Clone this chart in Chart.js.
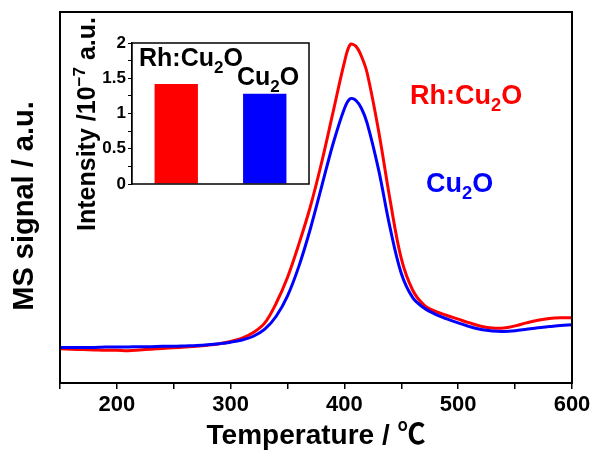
<!DOCTYPE html>
<html>
<head>
<meta charset="utf-8">
<script src="https://cdn.jsdelivr.net/npm/chart.js@4/dist/chart.umd.min.js"></script>
<style>
  html, body { margin: 0; padding: 0; background: #fff; }
  #wrap { position: relative; width: 597px; height: 454px; }
  #wrap canvas { position: absolute; left: 0; top: 0; }
</style>
</head>
<body>
<div id="wrap">
  <canvas id="msChart" width="597" height="454"></canvas>
  <canvas id="insetChart" width="320" height="250"></canvas>
</div>
<script>
const FAMILY = 'Arial, "Liberation Sans", "Noto Sans CJK SC", sans-serif';

// TPD traces (arbitrary units)
const temperature = [150, 160, 170, 180, 190, 200, 210, 220, 230, 240, 250, 260, 270, 280, 290, 300,
    310, 320, 330, 340, 350, 360, 370, 380, 390, 400, 405, 410, 415, 420, 430, 440, 450, 460,
    470, 480, 490, 500, 510, 520, 530, 540, 550, 560, 570, 580, 590, 600];
const rhSignal = [9.2, 9.1, 9.0, 8.9, 8.8, 8.8, 8.7, 8.9, 9.1, 9.3, 9.5, 9.7, 9.9, 10.2, 10.6, 11.2,
    12.1, 13.6, 16.2, 21.5, 28.5, 37.5, 47.5, 59.5, 73.0, 86.5, 91.2, 90.8, 88.0, 83.5, 68.0, 49.5, 33.5, 25.0,
    21.0, 19.3, 18.2, 17.2, 16.2, 15.3, 14.8, 14.8, 15.4, 16.2, 16.9, 17.4, 17.6, 17.6];
const cu2oSignal = [9.6, 9.6, 9.6, 9.6, 9.7, 9.7, 9.7, 9.8, 9.8, 9.9, 9.9, 10.0, 10.1, 10.3, 10.6, 11.0,
    11.6, 12.6, 14.5, 18.0, 23.5, 31.5, 41.5, 53.0, 64.5, 74.0, 76.6, 76.2, 74.0, 70.0, 57.5, 42.0, 29.5, 23.0,
    20.2, 18.5, 17.3, 16.2, 15.2, 14.4, 14.0, 13.9, 14.1, 14.5, 14.9, 15.2, 15.5, 15.7];

// integrated intensity, 10^-7 a.u.
const samples = ['Rh:Cu2O', 'Cu2O'];
const intensity = [1.42, 1.28];
const sampleColors = ['#ff0000', '#0000ff'];

// split a formula like "Cu2O" into plain / subscript runs
function chemParts(name) {
    return name.split(/(\d+)/).filter(s => s).map(s => /^\d+$/.test(s) ? [s, 'sub'] : [s]);
}

function richWidth(ctx, parts, size) {
    let w = 0;
    parts.forEach(([t, kind]) => {
        ctx.font = `bold ${kind ? size * 0.68 : size}px ${FAMILY}`;
        w += ctx.measureText(t).width;
    });
    return w;
}

function drawRich(ctx, parts, x, y, size, color) {
    let cx = x;
    ctx.save();
    ctx.fillStyle = color;
    ctx.textAlign = 'left';
    ctx.textBaseline = 'alphabetic';
    parts.forEach(([t, kind]) => {
        ctx.font = `bold ${kind ? size * 0.68 : size}px ${FAMILY}`;
        const dy = kind === 'sub' ? size * 0.26 : kind === 'sup' ? -size * 0.42 : 0;
        ctx.fillText(t, cx, y + dy);
        cx += ctx.measureText(t).width;
    });
    ctx.restore();
}

// rotated text centred on (x, y), baseline at x
function drawVertical(ctx, parts, x, y, size) {
    const w = richWidth(ctx, parts, size);
    ctx.save();
    ctx.translate(x, y);
    ctx.rotate(-Math.PI / 2);
    drawRich(ctx, parts, -w / 2, 0, size, '#000');
    ctx.restore();
}

const frame = {
    id: 'frame',
    beforeDatasetsDraw(chart, args, opts) {
        if (!opts.fill) return;
        const { ctx, chartArea: a } = chart;
        ctx.save();
        ctx.fillStyle = '#fff';
        ctx.fillRect(a.left, a.top, a.right - a.left, a.bottom - a.top);
        ctx.restore();
    },
    afterDraw(chart, args, opts) {
        const { ctx, chartArea: a } = chart;
        ctx.save();
        ctx.strokeStyle = '#000';
        ctx.lineWidth = opts.width || 2;
        ctx.strokeRect(a.left, a.top, a.right - a.left, a.bottom - a.top);
        ctx.restore();
    }
};

// series names next to the curves, y axis title
const mainText = {
    id: 'mainText',
    afterDraw(chart) {
        const ctx = chart.ctx;
        drawRich(ctx, chemParts(samples[0]), 410, 104, 27, sampleColors[0]);
        drawRich(ctx, chemParts(samples[1]), 426, 192, 27, sampleColors[1]);
        drawVertical(ctx, [['MS signal / a.u.']], 33, 206, 29);
    }
};

const toPoints = ys => temperature.map((t, i) => ({ x: t, y: ys[i] }));

new Chart(document.getElementById('msChart'), {
    type: 'line',
    data: {
        datasets: [
            { label: samples[1], data: toPoints(cu2oSignal), borderColor: sampleColors[1] },
            { label: samples[0], data: toPoints(rhSignal), borderColor: sampleColors[0] }
        ]
    },
    options: {
        responsive: false,
        animation: false,
        layout: { padding: { top: 12, right: 25, left: 0, bottom: 0 } },
        elements: {
            line: { borderWidth: 3, tension: 0.35, fill: false },
            point: { radius: 0 }
        },
        plugins: { legend: { display: false }, tooltip: { enabled: false }, frame: { width: 2 } },
        scales: {
            x: {
                type: 'linear', min: 150, max: 600,
                afterFit: s => { s.height = 71; },
                ticks: {
                    stepSize: 50, autoSkip: false, maxRotation: 0, padding: 3, color: '#000',
                    font: { family: FAMILY, size: 22, weight: 'bold' },
                    callback: v => v % 100 === 0 ? v : ''
                },
                grid: { drawOnChartArea: false, tickLength: 6, color: '#000', lineWidth: 1.5 },
                border: { color: '#000', width: 2 },
                title: {
                    display: true, text: 'Temperature / ℃', color: '#000',
                    font: { family: FAMILY, size: 28, weight: 'bold' },
                    padding: { top: 0, bottom: 1 }
                }
            },
            y: {
                min: 0, max: 100,
                afterFit: s => { s.width = 60; },
                ticks: { display: false },
                grid: { drawOnChartArea: false, drawTicks: false },
                border: { color: '#000', width: 2 }
            }
        }
    },
    plugins: [frame, mainText]
});

// inset: bar labels and rotated axis title with superscript
const insetText = {
    id: 'insetText',
    afterDraw(chart) {
        const { ctx, chartArea: a } = chart;
        drawRich(ctx, chemParts(samples[0]), a.left + 7, a.top + 23, 25, '#000');
        drawRich(ctx, chemParts(samples[1]), a.left + 105, a.top + 42, 25, '#000');
        drawVertical(ctx, [['Intensity /10'], ['\u22127', 'sup'], [' a.u.']], 95, 124, 25);
    }
};

new Chart(document.getElementById('insetChart'), {
    type: 'bar',
    data: {
        labels: samples,
        datasets: [{ data: intensity, backgroundColor: sampleColors, borderWidth: 0 }]
    },
    options: {
        responsive: false,
        animation: false,
        layout: { padding: { top: 43, right: 11, bottom: 66, left: 0 } },
        plugins: { legend: { display: false }, tooltip: { enabled: false }, frame: { width: 1.5, fill: true } },
        datasets: { bar: { categoryPercentage: 1, barPercentage: 0.49 } },
        scales: {
            x: { display: false },
            y: {
                min: 0, max: 2,
                afterFit: s => { s.width = 132; },
                ticks: {
                    stepSize: 0.25, autoSkip: false, padding: 2, color: '#000',
                    font: { family: FAMILY, size: 17, weight: 'bold' },
                    callback: v => v % 0.5 === 0 ? String(v) : ''
                },
                grid: { drawOnChartArea: false, tickLength: 4, color: '#000', lineWidth: 1 },
                border: { color: '#000', width: 1.5 }
            }
        }
    },
    plugins: [frame, insetText]
});
</script>
</body>
</html>
